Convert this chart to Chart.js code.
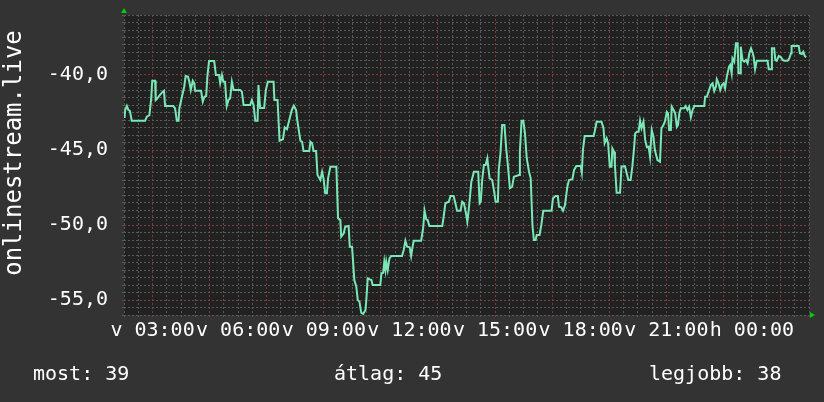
<!DOCTYPE html>
<html>
<head>
<meta charset="utf-8">
<script src="https://cdn.jsdelivr.net/npm/chart.js@4/dist/chart.umd.min.js"></script>
<style>
    html, body { margin: 0; padding: 0; background: #333333; }
</style>
</head>
<body>
<canvas id="hallgatok" width="824" height="402"></canvas>
<script>
// Canvas
const cnv = document.getElementById('hallgatok');

// Idopontok (ora, 02:00-tol masnap 02:00-ig)
const idopontok = [
    2.02, 2.04, 2.10, 2.15, 2.21, 2.27, 2.74, 2.80, 2.89, 2.95, 2.99, 3.09, 3.11, 3.17, 3.26, 3.36, 3.40, 3.44, 3.73, 3.79, 3.85, 3.91, 3.94, 4.03, 4.11, 4.16, 4.24, 4.29, 4.34, 4.41, 4.46, 4.49, 4.70, 4.76, 4.82, 4.88, 4.92, 4.98, 5.16, 5.22, 5.33, 5.37, 5.43, 5.48, 5.54, 5.60, 5.66, 5.72, 5.78, 5.84, 6.07,
    6.13, 6.19, 6.42, 6.48, 6.54, 6.60, 6.68, 6.71, 6.77, 6.91, 6.97, 7.04, 7.24, 7.27, 7.38, 7.45, 7.57, 7.63, 7.71, 7.79, 7.88, 7.95, 8.03, 8.07, 8.18, 8.24, 8.29, 8.49, 8.53, 8.59, 8.64, 8.73, 8.78, 8.88, 8.94, 8.99, 9.05, 9.11, 9.15, 9.23, 9.44, 9.50, 9.58, 9.61, 9.70, 9.75, 9.87, 9.91, 9.99,
    10.07, 10.14, 10.19, 10.25, 10.31, 10.38, 10.46, 10.49, 10.54, 10.61, 10.67, 10.71, 10.98, 11.02, 11.08, 11.12, 11.16, 11.19, 11.24, 11.30, 11.36, 11.74, 11.80, 11.86, 11.92, 12.01, 12.06, 12.11, 12.15, 12.41, 12.48, 12.53, 12.59, 12.64, 12.70, 13.15, 13.20, 13.26, 13.38, 13.44, 13.55, 13.61, 13.67, 13.79, 13.85, 13.91, 13.97, 14.03, 14.08,
    14.17, 14.26, 14.41, 14.46, 14.50, 14.55, 14.61, 14.67, 14.73, 14.76, 14.81, 14.90, 14.96, 15.02, 15.10, 15.13, 15.19, 15.25, 15.33, 15.39, 15.46, 15.52, 15.60, 15.66, 15.84, 15.87, 15.93, 15.99, 16.05, 16.11, 16.19, 16.25, 16.31, 16.36, 16.42, 16.46, 16.56, 16.62, 16.69, 16.98, 17.03, 17.12, 17.20, 17.24, 17.32, 17.38, 17.45, 17.53, 17.59, 17.71, 17.77, 17.85, 18.00, 18.04, 18.08, 18.14,
    18.45, 18.49, 18.56, 18.73, 18.80, 18.84, 18.91, 18.96, 19.02, 19.08, 19.11, 19.17, 19.20, 19.26, 19.38, 19.43, 19.55, 19.60, 19.67, 19.75, 19.81, 19.87, 19.91, 19.97, 20.03, 20.08, 20.13, 20.20, 20.26, 20.32, 20.38, 20.43, 20.49, 20.55, 20.60, 20.69, 20.78, 20.83, 20.90, 20.95, 21.02, 21.06, 21.10, 21.16, 21.19, 21.27, 21.31, 21.37, 21.41, 21.46, 21.51, 21.63, 21.68, 21.74, 21.80, 21.86, 21.92, 21.98,
    22.33, 22.36, 22.42, 22.48, 22.56, 22.62, 22.68, 22.74, 22.77, 22.83, 22.89, 22.95, 23.01, 23.06, 23.12, 23.20, 23.24, 23.29, 23.32, 23.38, 23.44, 23.50, 23.53, 23.59, 23.61, 23.67, 23.73, 23.79, 23.85, 23.91, 23.97, 24.03, 24.06, 24.11, 24.17, 24.55, 24.59, 24.67, 24.70, 24.78, 24.82, 24.87, 24.94, 25.02, 25.08, 25.13, 25.25, 25.31, 25.37, 25.39, 25.64, 25.68, 25.75, 25.80, 25.85, 25.90
];

// Ertekek
const ertekek = [
    -42.87, -42.33, -42.07, -42.33, -42.40, -43.05, -43.05, -42.78, -42.67, -41.62, -40.38, -40.38, -41.67, -41.55, -41.33, -41.11, -41.05, -42.07, -42.07, -42.22, -43.05, -43.05, -42.22, -41.45, -40.78, -40.07, -40.11, -40.45, -41.00, -40.38, -40.55, -41.05, -41.05, -41.78, -41.45, -41.40, -40.11, -39.07, -39.07, -40.00, -40.00, -40.55, -40.00, -40.45, -40.45, -42.07, -41.67, -41.55, -40.45, -41.00, -41.00,
    -41.11, -42.00, -42.00, -41.67, -42.00, -43.05, -43.05, -40.67, -42.20, -42.20, -41.00, -40.45, -40.45, -41.67, -41.67, -44.38, -44.29, -43.49, -43.62, -43.00, -42.33, -42.05, -42.33, -43.00, -44.38, -44.45, -45.07, -45.07, -44.45, -44.55, -45.07, -45.07, -46.67, -47.00, -46.45, -46.89, -47.89, -47.89, -46.89, -46.11, -46.11, -49.55, -49.67, -50.78, -50.55, -50.11, -50.07, -51.45, -51.45,
    -53.67, -54.11, -55.00, -55.11, -55.85, -55.93, -55.67, -55.00, -53.55, -53.62, -53.67, -54.00, -54.00, -53.22, -53.18, -52.45, -53.00, -52.45, -53.00, -52.22, -52.07, -52.07, -51.67, -51.05, -51.45, -51.49, -52.07, -51.45, -51.05, -51.05, -50.22, -49.05, -49.62, -49.67, -50.07, -50.07, -49.45, -48.55, -48.45, -48.07, -48.07, -48.55, -49.05, -49.05, -48.45, -48.55, -49.11, -49.78, -48.95,
    -47.11, -46.45, -46.45, -48.55, -48.45, -47.00, -46.00, -46.00, -45.55, -46.11, -46.89, -47.00, -47.67, -48.45, -48.45, -46.33, -45.22, -43.33, -43.33, -44.89, -46.22, -47.55, -47.45, -46.78, -46.67, -45.11, -43.05, -43.05, -43.89, -45.55, -46.45, -46.89, -50.00, -51.00, -51.00, -50.67, -50.67, -50.00, -49.05, -49.05, -48.22, -48.07, -48.07, -48.78, -48.82, -49.05, -48.67, -47.49, -47.00, -46.95, -46.33, -46.07, -46.07, -46.51, -45.00, -44.07,
    -44.07, -43.78, -43.11, -43.11, -43.55, -44.55, -44.22, -44.55, -46.11, -46.11, -44.89, -45.11, -46.00, -47.85, -47.85, -46.11, -46.07, -46.45, -47.00, -47.00, -46.11, -44.89, -43.89, -43.78, -43.78, -43.05, -43.55, -43.11, -44.33, -44.82, -44.78, -45.45, -43.67, -44.11, -45.00, -45.67, -45.78, -43.55, -43.33, -43.11, -42.45, -42.55, -43.67, -43.67, -42.11, -42.38, -42.55, -43.45, -43.33, -42.51, -42.22, -42.22, -42.07, -42.33, -42.11, -42.82, -42.33, -42.07,
    -42.07, -41.45, -41.45, -41.11, -40.67, -40.55, -41.07, -40.78, -40.29, -40.55, -41.00, -40.67, -40.55, -40.89, -40.11, -39.45, -39.33, -39.89, -38.89, -39.11, -37.89, -37.89, -39.89, -39.89, -38.11, -39.00, -39.11, -39.00, -39.22, -38.55, -38.22, -38.55, -38.78, -39.62, -39.05, -39.05, -39.62, -39.62, -38.22, -38.22, -39.00, -39.05, -38.73, -38.82, -39.00, -39.05, -39.05, -38.89, -38.55, -38.07, -38.07, -38.55, -38.60, -38.45, -38.73, -38.82
];

// Tengely feliratok
const cimkeOrak = [3, 6, 9, 12, 15, 18, 21, 24];
const cimkeSzovegek = ['v 03:00', 'v 06:00', 'v 09:00', 'v 12:00', 'v 15:00', 'v 18:00', 'v 21:00', 'h 00:00'];
const yCimkek = [-55, -50, -45, -40];
const yCim = 'onlinestream.live';

// Osszesito sor
const legendaNevek = ['most', 'átlag', 'legjobb'];
const legendaErtekek = [39, 45, 38];

const betu = 'DejaVu Sans Mono';
const racsSzurke = '#595959';
const racsPiros = '#7d3b3b';

const rrdKeret = {
    id: 'rrdKeret',
    beforeDraw(chart) {
        const { ctx, chartArea: a } = chart;
        ctx.save();
        ctx.fillStyle = '#333333';
        ctx.fillRect(0, 0, chart.width, chart.height);
        ctx.fillStyle = '#212121';
        ctx.fillRect(a.left, a.top, a.right - a.left, a.bottom - a.top);
        ctx.restore();
    },
    afterDraw(chart) {
        const { ctx, chartArea: a } = chart;
        ctx.save();
        // nyilak
        ctx.fillStyle = '#00cc00';
        ctx.beginPath();
        ctx.moveTo(a.left - 3, a.top - 2);
        ctx.lineTo(a.left + 3, a.top - 2);
        ctx.lineTo(a.left, a.top - 7);
        ctx.fill();
        ctx.beginPath();
        ctx.moveTo(a.right + 1, a.bottom - 3);
        ctx.lineTo(a.right + 1, a.bottom + 3);
        ctx.lineTo(a.right + 6, a.bottom);
        ctx.fill();
        // fuggoleges cim
        ctx.fillStyle = '#ffffff';
        ctx.font = '24px "' + betu + '"';
        ctx.translate(21, 153);
        ctx.rotate(-Math.PI / 2);
        ctx.textAlign = 'center';
        ctx.textBaseline = 'alphabetic';
        ctx.fillText(yCim, 0, 0);
        ctx.restore();
        // also sor
        ctx.save();
        ctx.fillStyle = '#ffffff';
        ctx.font = '20px "' + betu + '"';
        const xk = [33, 334, 649];
        legendaNevek.forEach((n, i) => {
            ctx.fillText(n + ': ' + legendaErtekek[i], xk[i], 380);
        });
        ctx.restore();
    }
};

new Chart(cnv, {
    type: 'line',
    data: {
        datasets: [
            {
                data: idopontok.map((t, i) => ({ x: t, y: ertekek[i] })),
                borderColor: '#7ae8b6',
                borderWidth: 2,
                pointRadius: 0,
                tension: 0,
                fill: false
            }
        ]
    },
    options: {
        responsive: false,
        animation: false,
        layout: {
            padding: { top: 15, right: 15, left: 0, bottom: 0 }
        },
        plugins: {
            legend: { display: false },
            tooltip: { enabled: false }
        },
        scales: {
            x: {
                type: 'linear',
                min: 2,
                max: 26,
                afterBuildTicks: (scale) => {
                    const t = [];
                    for (let v = 2; v <= 26; v += 0.5) t.push({ value: v });
                    scale.ticks = t;
                },
                afterFit: (scale) => {
                    scale.height = 87;
                    scale.paddingLeft = 0;
                    scale.paddingRight = 0;
                },
                grid: {
                    color: (c) => (c.tick.value % 2 === 1 ? racsPiros : racsSzurke),
                    tickColor: (c) => (c.tick.value % 2 === 1 ? racsPiros : racsSzurke),
                    lineWidth: 1,
                    tickLength: 2
                },
                border: { display: false, dash: [2, 2] },
                ticks: {
                    autoSkip: false,
                    maxRotation: 0,
                    padding: 2,
                    color: '#ffffff',
                    font: { family: betu, size: 20 },
                    callback: (v) => {
                        const i = cimkeOrak.indexOf(v);
                        return i >= 0 ? cimkeSzovegek[i] : '';
                    }
                }
            },
            y: {
                type: 'linear',
                min: -56,
                max: -36,
                afterBuildTicks: (scale) => {
                    const t = [];
                    for (let v = -56; v <= -36; v += 0.5) t.push({ value: v });
                    scale.ticks = t;
                },
                afterFit: (scale) => {
                    scale.width = 124;
                    scale.paddingTop = 0;
                    scale.paddingBottom = 0;
                },
                grid: {
                    color: (c) => (c.tick.value % 5 === 0 ? racsPiros : racsSzurke),
                    tickColor: (c) => (c.tick.value % 5 === 0 ? racsPiros : racsSzurke),
                    lineWidth: 1,
                    tickLength: 2
                },
                border: { display: false, dash: [2, 2] },
                ticks: {
                    autoSkip: false,
                    padding: 14,
                    color: '#ffffff',
                    font: { family: betu, size: 20 },
                    callback: (v) => (yCimkek.includes(v) ? v.toFixed(1).replace('.', ',') : '')
                }
            }
        }
    },
    plugins: [rrdKeret]
});
</script>
</body>
</html>
